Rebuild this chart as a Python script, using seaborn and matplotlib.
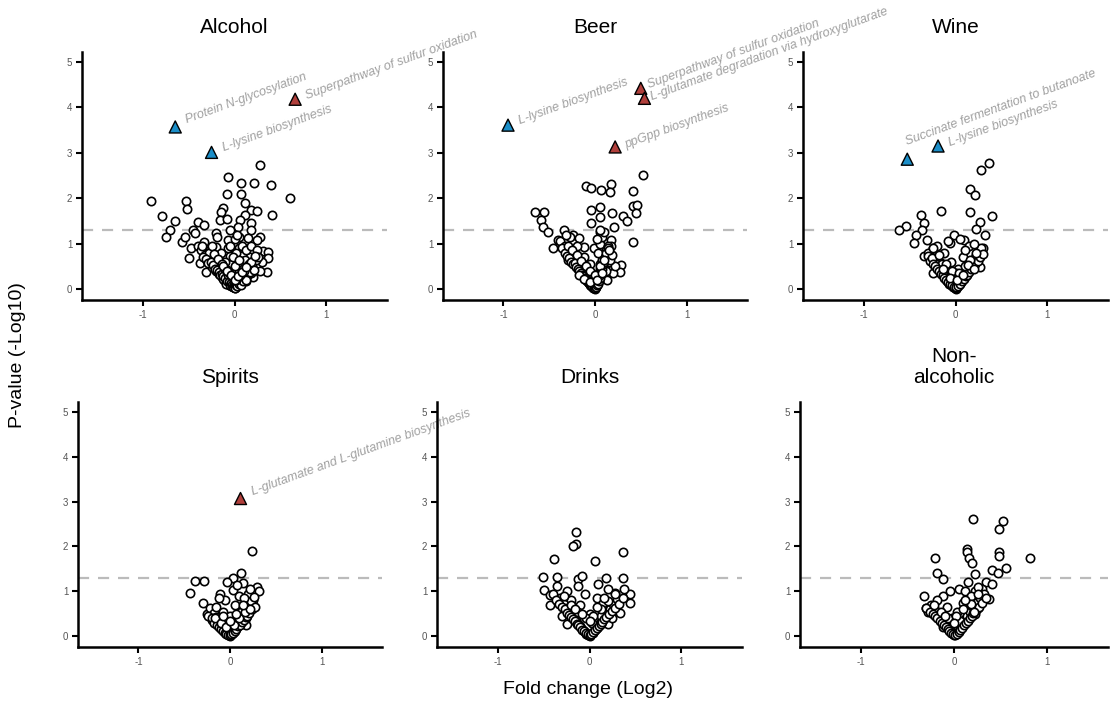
import numpy as np
import pandas as pd
import seaborn as sns
import matplotlib.pyplot as plt

# fold change (log2) and p-value (-log10) per diet group
alcohol_fc = [-0.905, -0.79, -0.645, -0.70, -0.75, -0.525, -0.52, -0.57, -0.535, -0.45, -0.40, -0.33, -0.435, -0.47,
              -0.49, -0.38, -0.31, -0.33, -0.27, -0.20, -0.07, 0.07, 0.21, 0.28, 0.40, 0.605, -0.085, 0.07, 0.11, -0.13,
              -0.15, -0.16, -0.08, 0.18, 0.24, 0.41, 0.11, 0.06, 0.18, 0.04, -0.05, 0.18, -0.20, -0.19, -0.07, 0.05,
              0.145, 0.28, 0.24, 0.31, 0.37, 0.37, 0.26, 0.17, 0.355, 0.20, 0.16, -0.05, -0.07, 0.05, -0.20,
              -0.40, -0.36, -0.32, -0.30, -0.27, -0.24, -0.22, -0.20, -0.18, -0.17, -0.15, -0.14, -0.12, -0.11, -0.10,
              -0.09, -0.08, -0.07, -0.06, -0.05, -0.04, -0.03, -0.02, 0.0, 0.01, 0.02, 0.03, 0.04, 0.05, 0.06, 0.07,
              0.08, 0.09, 0.10, 0.11, 0.12, 0.13, 0.14, 0.16, 0.18, 0.20, 0.22, 0.25, 0.28, 0.30, -0.28, -0.35, -0.25,
              -0.15, -0.10, 0.0, 0.02, 0.08, 0.12, 0.18, 0.24, -0.05, 0.0, 0.03, -0.02, 0.05]
alcohol_p = [1.94, 1.61, 1.50, 1.30, 1.15, 1.94, 1.77, 1.04, 1.15, 1.30, 1.48, 1.41, 1.23, 0.90,
             0.68, 0.57, 0.38, 1.04, 0.86, 0.71, 2.47, 2.34, 2.33, 2.74, 2.29, 2.01, 2.10, 2.10, 1.90, 1.78,
             1.69, 1.52, 1.54, 1.74, 1.72, 1.63, 1.63, 1.52, 1.45, 1.37, 1.30, 1.30, 1.23, 1.14, 1.08, 1.15,
             1.12, 1.14, 1.08, 0.84, 0.81, 0.69, 0.70, 0.71, 0.37, 0.27, 0.49, 0.73, 0.90, 0.90, 0.93,
             0.95, 0.85, 0.75, 0.62, 0.55, 0.48, 0.62, 0.40, 0.52, 0.33, 0.45, 0.26, 0.36, 0.20, 0.30,
             0.15, 0.42, 0.22, 0.10, 0.30, 0.06, 0.18, 0.04, 0.02, 0.12, 0.05, 0.25, 0.08, 0.38, 0.15, 0.55,
             0.22, 0.45, 0.30, 0.65, 0.18, 0.40, 0.28, 0.55, 0.35, 0.62, 0.45, 0.55, 0.40, 0.60, 0.80, 0.95, 0.95,
             0.80, 0.60, 0.50, 0.80, 0.95, 0.85, 0.95, 0.85, 0.95, 1.10, 1.20, 0.70, 0.65]
alcohol_core_fc = [-0.34, -0.31, -0.29, -0.26, -0.23, -0.21, -0.19, -0.17, -0.16, -0.14, -0.13, -0.12, -0.10, -0.09,
                   -0.08, -0.07, -0.06, -0.05, -0.04, -0.03, -0.02, -0.01, 0.0, 0.01, 0.02, 0.03, 0.04, 0.05, 0.06,
                   0.07, 0.08, 0.09, 0.10, 0.11, 0.12, 0.13, 0.15, 0.17, 0.19, 0.21, 0.23, 0.26, -0.22, -0.18, -0.14,
                   -0.10, -0.06, -0.02, 0.02, 0.06, 0.10, 0.14, 0.18, 0.22, -0.12, -0.08, -0.04, 0.0, 0.04, 0.08, 0.12]
alcohol_core_p = [0.70, 0.66, 0.58, 0.60, 0.52, 0.45, 0.42, 0.38, 0.30, 0.34, 0.22, 0.28, 0.24, 0.12,
                  0.18, 0.30, 0.16, 0.08, 0.14, 0.10, 0.05, 0.08, 0.06, 0.03, 0.10, 0.06, 0.15, 0.12, 0.22,
                  0.10, 0.30, 0.18, 0.35, 0.25, 0.42, 0.20, 0.45, 0.38, 0.50, 0.42, 0.65, 0.70, 0.78, 0.66, 0.55,
                  0.45, 0.35, 0.25, 0.20, 0.30, 0.40, 0.50, 0.60, 0.72, 0.50, 0.40, 0.30, 0.20, 0.28, 0.38, 0.48]

beer_fc = [-0.66, -0.56, -0.59, -0.57, -0.51, -0.46, -0.405, -0.34, -0.24, -0.30, -0.17, -0.10, -0.04, 0.065,
           0.18, 0.16, 0.52, 0.42, 0.41, 0.46, 0.445, 0.31, 0.35, -0.04, 0.06, 0.185, -0.04, 0.06, 0.05, 0.21,
           0.42, 0.17, 0.28, 0.275, -0.115, -0.01, -0.225, -0.15, -0.08,
           -0.38, -0.33, -0.30, -0.28, -0.25, -0.22, -0.20, -0.18, -0.16, -0.14, -0.12, -0.10, -0.09, -0.07, -0.06,
           -0.04, -0.03, -0.02, 0.0, 0.01, 0.02, 0.03, 0.04, 0.05, 0.06, 0.07, 0.08, 0.09, 0.10, 0.11, 0.12, 0.13,
           0.15, 0.17, 0.20, 0.22, -0.27, -0.20, -0.12, -0.05, 0.0, 0.03, 0.05, 0.08, 0.10, 0.14, 0.18, -0.32,
           -0.26, 0.02, 0.06, 0.12]
beer_p = [1.69, 1.69, 1.52, 1.37, 1.25, 0.91, 1.08, 1.30, 1.19, 0.64, 1.12, 2.28, 2.22, 2.18,
          2.31, 2.14, 2.51, 2.16, 1.83, 1.85, 1.67, 1.61, 1.50, 1.75, 1.81, 1.67, 1.45, 1.59, 1.26, 1.37,
          1.03, 1.08, 0.53, 0.38, 0.93, 0.90, 0.71, 0.42, 0.16,
          1.05, 0.95, 0.85, 0.75, 0.68, 0.60, 0.52, 0.45, 0.38, 0.33, 0.27, 0.22, 0.18, 0.14, 0.10,
          0.06, 0.12, 0.03, 0.01, 0.05, 0.15, 0.25, 0.35, 0.45, 0.55, 0.40, 0.65, 0.30, 0.75, 0.50, 0.85, 0.20,
          0.60, 0.95, 0.35, 0.50, 1.15, 0.95, 0.70, 0.55, 0.30, 0.80, 1.00, 1.15, 1.25, 0.95, 0.75, 1.20,
          0.85, 1.10, 1.30, 0.40]
beer_core_fc = [-0.36, -0.33, -0.31, -0.28, -0.26, -0.24, -0.22, -0.21, -0.19, -0.17, -0.15, -0.14, -0.13, -0.11,
                -0.10, -0.08, -0.07, -0.05, -0.04, -0.03, -0.01, 0.0, 0.01, 0.02, 0.03, 0.04, 0.05, 0.06, 0.07,
                0.08, 0.09, 0.10, 0.11, 0.12, 0.14, 0.16, 0.19, -0.30, -0.25, -0.20, -0.15, -0.10, -0.05, 0.0,
                0.05, 0.10, 0.15, -0.18, -0.12, -0.06, 0.02, 0.08]
beer_core_p = [0.90, 0.80, 0.72, 0.68, 0.60, 0.55, 0.58, 0.48, 0.45, 0.40, 0.36, 0.30, 0.28, 0.24,
               0.20, 0.18, 0.14, 0.12, 0.08, 0.06, 0.04, 0.02, 0.05, 0.08, 0.12, 0.18, 0.25, 0.30, 0.38,
               0.45, 0.55, 0.60, 0.70, 0.80, 0.90, 0.65, 0.75, 0.95, 0.85, 0.75, 0.62, 0.50, 0.40, 0.30,
               0.50, 0.65, 0.85, 0.30, 0.22, 0.15, 0.20, 0.35]

wine_fc = [0.37, 0.28, 0.155, 0.21, -0.16, 0.155, 0.40, 0.27, 0.22, 0.32, 0.30, -0.38, -0.345, -0.36, -0.54,
           -0.62, -0.435, -0.45, -0.31, -0.345, -0.25, -0.02, -0.055, 0.09, -0.25, -0.16, 0.235, 0.27,
           -0.30, -0.27, -0.24, -0.21, -0.19, -0.17, -0.15, -0.13, -0.11, -0.09, -0.07, -0.05, -0.03, -0.01, 0.0,
           0.02, 0.04, 0.06, 0.08, 0.10, 0.12, 0.14, 0.16, 0.18, 0.20, 0.22, 0.25, 0.28, -0.20, -0.12, -0.05,
           0.03, 0.08, 0.15, 0.20, -0.15, 0.0, 0.10, 0.05, -0.08]
wine_p = [2.77, 2.62, 2.20, 2.07, 1.72, 1.69, 1.61, 1.48, 1.32, 1.19, 0.91, 1.63, 1.46, 1.30, 1.39,
          1.30, 1.19, 1.01, 1.09, 0.73, 0.90, 1.19, 1.02, 1.08, 0.35, 0.57, 0.64, 0.49,
          0.80, 0.70, 0.62, 0.55, 0.47, 0.40, 0.35, 0.30, 0.24, 0.18, 0.12, 0.08, 0.04, 0.02, 0.01,
          0.05, 0.10, 0.15, 0.22, 0.28, 0.35, 0.42, 0.50, 0.58, 0.66, 0.75, 0.82, 0.90, 0.95, 0.80, 0.60,
          0.45, 0.70, 0.95, 1.00, 0.55, 0.35, 0.85, 1.10, 1.05]
wine_core_fc = [-0.30, -0.28, -0.26, -0.24, -0.22, -0.20, -0.18, -0.16, -0.14, -0.12, -0.10, -0.08, -0.06, -0.04,
                -0.02, 0.0, 0.01, 0.03, 0.05, 0.07, 0.09, 0.11, 0.13, 0.15, 0.17, 0.19, 0.21, 0.24, 0.27, 0.30,
                -0.25, -0.18, -0.10, -0.04, 0.04, 0.10, 0.16, 0.22, -0.14, -0.06, 0.02, 0.08, 0.14, 0.20]
wine_core_p = [0.72, 0.62, 0.68, 0.55, 0.50, 0.45, 0.40, 0.34, 0.30, 0.25, 0.20, 0.16, 0.12, 0.08,
               0.05, 0.02, 0.04, 0.07, 0.12, 0.18, 0.22, 0.28, 0.32, 0.38, 0.44, 0.50, 0.55, 0.62, 0.70, 0.78,
               0.90, 0.75, 0.55, 0.40, 0.35, 0.50, 0.65, 0.80, 0.45, 0.25, 0.20, 0.30, 0.52, 0.45]

spirits_fc = [0.235, 0.115, 0.03, -0.38, -0.28, -0.435, 0.145, -0.035, 0.29, 0.315, -0.29, -0.11, 0.035, 0.20,
              -0.25, -0.20, 0.18, 0.11, 0.25,
              -0.22, -0.18, -0.15, -0.13, -0.11, -0.09, -0.07, -0.05, -0.03, -0.01, 0.0, 0.02, 0.04, 0.06, 0.08,
              0.10, 0.12, 0.14, 0.16, 0.18, 0.20, 0.23, 0.26, -0.15, -0.08, 0.0, 0.05, 0.10, 0.15, 0.22, -0.05,
              0.08, 0.12, -0.12, 0.02, 0.18]
spirits_p = [1.89, 1.42, 1.30, 1.23, 1.23, 0.97, 1.18, 1.21, 1.10, 1.01, 0.75, 0.95, 1.02, 0.95,
             0.50, 0.36, 0.24, 0.65, 0.80,
             0.62, 0.52, 0.42, 0.35, 0.28, 0.22, 0.16, 0.10, 0.06, 0.03, 0.01, 0.05, 0.10, 0.15, 0.20,
             0.28, 0.35, 0.42, 0.50, 0.60, 0.70, 0.78, 0.88, 0.65, 0.55, 0.45, 0.70, 0.90, 0.85, 1.05, 0.80,
             1.15, 0.55, 0.85, 0.30, 0.40]
spirits_core_fc = [-0.24, -0.20, -0.17, -0.14, -0.12, -0.10, -0.08, -0.06, -0.04, -0.02, 0.0, 0.01, 0.03, 0.05,
                   0.07, 0.09, 0.11, 0.13, 0.15, 0.17, 0.19, 0.21, 0.24, 0.27, -0.16, -0.10, -0.04, 0.04, 0.10,
                   0.16, 0.22, -0.08, 0.0, 0.07, 0.14]
spirits_core_p = [0.45, 0.40, 0.30, 0.25, 0.20, 0.17, 0.12, 0.08, 0.05, 0.03, 0.02, 0.04, 0.07, 0.12,
                  0.16, 0.22, 0.26, 0.32, 0.36, 0.42, 0.46, 0.52, 0.60, 0.66, 0.40, 0.30, 0.20, 0.25, 0.40,
                  0.55, 0.60, 0.45, 0.35, 0.50, 0.70]

drinks_fc = [-0.15, -0.15, -0.185, -0.39, 0.06, 0.36, -0.51, -0.35, -0.12, -0.08, 0.185, 0.36, -0.50, -0.43,
             -0.43, -0.35, 0.44, 0.44, 0.38, 0.33, 0.275, 0.20, 0.095, -0.25, -0.12, -0.30, -0.25, 0.20, 0.20,
             -0.32, -0.28, -0.24, -0.21, -0.18, -0.15, -0.12, -0.10, -0.08, -0.06, -0.04, -0.02, 0.0, 0.02, 0.04,
             0.06, 0.08, 0.10, 0.12, 0.15, 0.18, 0.22, 0.26, 0.30, -0.20, -0.10, 0.0, 0.08, 0.15, -0.05, 0.03,
             0.12, -0.15, 0.25]
drinks_p = [2.32, 2.06, 2.00, 1.73, 1.68, 1.88, 1.33, 1.32, 1.28, 1.34, 1.30, 1.29, 1.02, 0.91,
            0.70, 1.13, 0.95, 0.74, 1.06, 0.52, 0.96, 1.06, 1.17, 1.01, 1.13, 0.44, 0.27, 0.58, 0.27,
            0.85, 0.72, 0.62, 0.52, 0.44, 0.36, 0.28, 0.22, 0.16, 0.11, 0.06, 0.03, 0.01, 0.04, 0.08,
            0.13, 0.18, 0.25, 0.32, 0.40, 0.50, 0.60, 0.72, 0.82, 0.80, 0.70, 0.50, 0.85, 0.75, 0.95, 0.30,
            0.45, 0.55, 0.40]
drinks_core_fc = [-0.40, -0.36, -0.33, -0.30, -0.27, -0.24, -0.22, -0.20, -0.18, -0.16, -0.14, -0.12, -0.10, -0.08,
                  -0.06, -0.04, -0.02, 0.0, 0.02, 0.04, 0.06, 0.08, 0.10, 0.12, 0.14, 0.16, 0.18, 0.21, 0.24, 0.28,
                  0.32, 0.36, -0.28, -0.20, -0.12, -0.04, 0.04, 0.12, 0.20, 0.28, -0.16, -0.08, 0.0, 0.08, 0.16]
drinks_core_p = [0.95, 0.80, 0.72, 0.65, 0.60, 0.52, 0.48, 0.42, 0.38, 0.33, 0.28, 0.24, 0.20, 0.15,
                 0.11, 0.07, 0.04, 0.02, 0.05, 0.09, 0.13, 0.18, 0.22, 0.28, 0.32, 0.38, 0.42, 0.50, 0.56, 0.64,
                 0.72, 0.85, 0.90, 0.70, 0.55, 0.40, 0.45, 0.60, 0.78, 0.95, 0.60, 0.50, 0.35, 0.65, 0.85]

nonalc_fc = [0.21, 0.53, 0.49, 0.145, 0.145, 0.165, 0.19, 0.48, 0.49, 0.82, -0.21, -0.18, -0.12, 0.41, 0.47,
             0.565, 0.23, 0.34, 0.41, 0.38, -0.32, -0.30, -0.28, -0.12, -0.04, 0.05, 0.12, 0.23, 0.30, -0.15,
             -0.12, 0.26, 0.23,
             -0.25, -0.20, -0.16, -0.13, -0.10, -0.08, -0.06, -0.04, -0.02, 0.0, 0.02, 0.04, 0.06, 0.08, 0.10,
             0.12, 0.14, 0.17, 0.20, 0.24, 0.28, 0.32, -0.18, -0.08, 0.03, 0.10, 0.18, 0.26, 0.15, -0.02, 0.07]
nonalc_p = [2.62, 2.57, 2.38, 1.95, 1.88, 1.75, 1.64, 1.88, 1.79, 1.75, 1.75, 1.40, 1.27, 1.48, 1.42,
            1.51, 1.38, 1.20, 1.17, 0.83, 0.90, 0.64, 0.53, 0.90, 1.01, 1.05, 1.01, 1.01, 1.05, 0.38,
            0.20, 0.64, 0.49,
            0.70, 0.58, 0.48, 0.40, 0.32, 0.26, 0.20, 0.14, 0.08, 0.02, 0.05, 0.10, 0.16, 0.22, 0.30,
            0.38, 0.45, 0.55, 0.65, 0.75, 0.85, 0.95, 0.80, 0.65, 0.55, 0.75, 0.90, 1.10, 1.20, 0.40, 0.35]
nonalc_core_fc = [-0.30, -0.26, -0.23, -0.20, -0.18, -0.15, -0.13, -0.11, -0.09, -0.07, -0.05, -0.03, -0.01, 0.01,
                  0.03, 0.05, 0.07, 0.09, 0.11, 0.13, 0.15, 0.17, 0.19, 0.21, 0.24, 0.27, 0.30, 0.34, -0.22, -0.14,
                  -0.06, 0.02, 0.10, 0.18, 0.26, -0.10, 0.0, 0.12, 0.22]
nonalc_core_p = [0.62, 0.55, 0.50, 0.44, 0.40, 0.34, 0.30, 0.25, 0.20, 0.16, 0.12, 0.08, 0.04, 0.03,
                 0.06, 0.10, 0.14, 0.19, 0.24, 0.30, 0.35, 0.40, 0.46, 0.52, 0.58, 0.66, 0.74, 0.85, 0.70, 0.55,
                 0.40, 0.45, 0.60, 0.72, 0.95, 0.45, 0.30, 0.80, 0.55]

# significant pathways (triangles)
hit_group = ['Alcohol', 'Alcohol', 'Alcohol', 'Beer', 'Beer', 'Beer', 'Beer', 'Wine', 'Wine', 'Spirits']
hit_name = ['Protein N-glycosylation', 'L-lysine biosynthesis', 'Superpathway of sulfur oxidation',
            'L-lysine biosynthesis', 'Superpathway of sulfur oxidation',
            'L-glutamate degradation via hydroxyglutarate', 'ppGpp biosynthesis',
            'Succinate fermentation to butanoate', 'L-lysine biosynthesis',
            'L-glutamate and L-glutamine biosynthesis']
hit_fc = [-0.645, -0.25, 0.66, -0.95, 0.50, 0.54, 0.22, -0.525, -0.19, 0.11]
hit_p = [3.57, 3.01, 4.18, 3.61, 4.42, 4.20, 3.13, 2.86, 3.15, 3.08]

groups = ['Alcohol', 'Beer', 'Wine', 'Spirits', 'Drinks', 'Non-\nalcoholic']
group_fc = [alcohol_fc + alcohol_core_fc, beer_fc + beer_core_fc, wine_fc + wine_core_fc,
            spirits_fc + spirits_core_fc, drinks_fc + drinks_core_fc, nonalc_fc + nonalc_core_fc]
group_p = [alcohol_p + alcohol_core_p, beer_p + beer_core_p, wine_p + wine_core_p,
           spirits_p + spirits_core_p, drinks_p + drinks_core_p, nonalc_p + nonalc_core_p]

# label offsets in points from each triangle (repel-style placement)
label_offsets = [(8, 5), (8, 3), (8, 2), (8, 2.5), (5, 2.5), (5, 1), (7, 1), (-1, 12), (8, 2), (8.5, 4)]

sns.set_style('ticks')
plt.rcParams['font.family'] = ['Liberation Sans', 'DejaVu Sans']
plt.rcParams['text.color'] = 'black'

fig = plt.figure(figsize=(11.13, 7.11), dpi=100)
W, H = 1113, 711
boxes = [(82, 52, 387, 300), (443, 52, 747, 300), (803, 52, 1108, 300),
         (78, 402, 382, 647), (437, 402, 742, 647), (800, 402, 1108, 647)]

for i, grp in enumerate(groups):
    l, t, r, b = boxes[i]
    ax = fig.add_axes([l / W, 1 - b / H, (r - l) / W, (b - t) / H])
    ax.patch.set_visible(False)
    df = pd.DataFrame({'fc': group_fc[i], 'p': group_p[i]})
    ax.axhline(1.3, color='#bbbbbb', lw=1.6, ls=(0, (5, 4)), zorder=1)
    sns.scatterplot(data=df, x='fc', y='p', ax=ax, s=36, facecolor='white',
                    edgecolor='black', linewidth=1.2, zorder=3)

    key = grp.replace('-\n', '-')
    sel = [j for j, g in enumerate(hit_group) if g == key]
    if sel:
        hd = pd.DataFrame({'fc': [hit_fc[j] for j in sel], 'p': [hit_p[j] for j in sel],
                           'dir': ['up' if hit_fc[j] > 0 else 'down' for j in sel]})
        sns.scatterplot(data=hd, x='fc', y='p', hue='dir', palette={'up': '#b03f3b', 'down': '#1b8ec8'},
                        marker='^', s=75, edgecolor='black', linewidth=1.0, ax=ax, legend=False, zorder=4)
        for j in sel:
            ax.annotate(hit_name[j], (hit_fc[j], hit_p[j]), xytext=label_offsets[j],
                        textcoords='offset points', rotation=20, rotation_mode='anchor',
                        ha='left', va='center', fontsize=9, style='italic', color='#a0a0a0',
                        annotation_clip=False, zorder=5)

    ax.set_xlim(-1.66, 1.66)
    ax.set_ylim(-0.24, 5.22)
    ax.set_xticks([-1, 0, 1])
    ax.set_yticks([0, 1, 2, 3, 4, 5])
    ax.set_xticklabels(['-1', '0', '1'])
    ax.set_xlabel('')
    ax.set_ylabel('')
    ax.set_title(grp, fontsize=15, pad=14, linespacing=1.1, color='black')
    sns.despine(ax=ax)
    for s in ['left', 'bottom']:
        ax.spines[s].set_linewidth(1.8)
        ax.spines[s].set_color('black')
    ax.tick_params(length=4, width=1.5, color='black', labelsize=7, labelcolor='#555555', pad=3)

fig.text(0.5287, 0.03, 'Fold change (Log2)', ha='center', va='center', fontsize=14, color='black')
fig.text(0.016, 0.5, 'P-value (-Log10)', ha='center', va='center', rotation=90, fontsize=14, color='black')

plt.savefig('out.png', dpi=100)
